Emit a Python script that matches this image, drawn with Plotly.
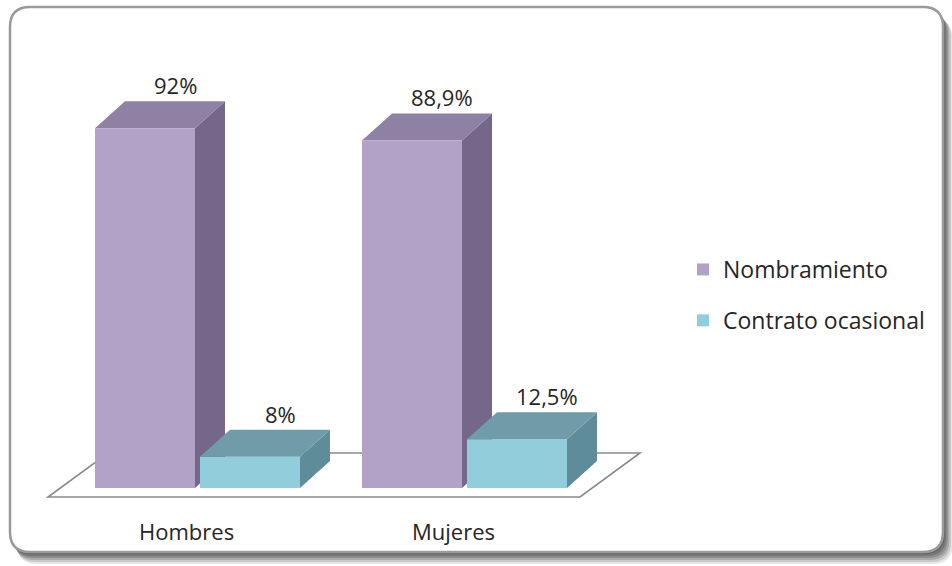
import plotly.graph_objects as go

# ---- data ----
categories = ["Hombres", "Mujeres"]
series_names = ["Nombramiento", "Contrato ocasional"]
nombramiento = [92.0, 88.9]
contrato = [8.0, 12.5]
nombramiento_text = ["92%", "88,9%"]
contrato_text = ["8%", "12,5%"]

# ---- canvas / scale setup ----
W, H = 952, 566
PX_X = 267.0          # pixels per category step
X0_PX = 197.5         # pixel position of the first category centre
PX_Y = 3.91           # pixels per percentage point
Y0_PX = 488.0         # pixel position of the 0 % baseline

x_range = [-X0_PX / PX_X, (W - X0_PX) / PX_X]
y_range = [-(H - Y0_PX) / PX_Y, Y0_PX / PX_Y]

BAR_W = 100 / PX_X
OFFSET = 52.5 / PX_X
DX = 30 / PX_X        # 3-D depth, horizontal
DY = 27 / PX_Y        # 3-D depth, vertical

FONT = "Open Sans"
TXT = "#262626"

colors = {
    "Nombramiento": dict(front="#B3A2C7", side="#75678A", top="#8F81A3"),
    "Contrato ocasional": dict(front="#92CDDC", side="#5E8D99", top="#6F9CA8"),
}


def px_to_paper(x, y):
    return x / W, 1 - y / H


def rounded_rect(x0, y0, x1, y1, r):
    def p(x, y):
        fx, fy = px_to_paper(x, y)
        return f"{fx:.5f},{fy:.5f}"
    return (f"M {p(x0 + r, y0)} L {p(x1 - r, y0)} Q {p(x1, y0)} {p(x1, y0 + r)} "
            f"L {p(x1, y1 - r)} Q {p(x1, y1)} {p(x1 - r, y1)} "
            f"L {p(x0 + r, y1)} Q {p(x0, y1)} {p(x0, y1 - r)} "
            f"L {p(x0, y0 + r)} Q {p(x0, y0)} {p(x0 + r, y0)} Z")


def poly(points):
    return "M " + " L ".join(f"{x:.5f},{y:.5f}" for x, y in points) + " Z"


shapes = []

# chart frame with drop shadow along the bottom/right
for k, a in [(12, 0.12), (10, 0.16), (8, 0.20), (6, 0.24), (4, 0.26), (2, 0.26)]:
    shapes.append(dict(type="path", xref="paper", yref="paper", layer="below",
                       path=rounded_rect(10 + k * 0.6, 7 + k, 943 + k * 0.8, 552 + k, 20),
                       fillcolor=f"rgba(50,50,50,{a})", line=dict(width=0)))
shapes.append(dict(type="path", xref="paper", yref="paper", layer="below",
                   path=rounded_rect(10, 7, 943, 552, 20),
                   fillcolor="white", line=dict(color="#9a9a9a", width=2.5)))

# floor plane
fy_front = -(497 - Y0_PX) / PX_Y
fy_back = (Y0_PX - 453) / PX_Y
floor = [((48 - X0_PX) / PX_X, fy_front), ((580 - X0_PX) / PX_X, fy_front),
         ((640 - X0_PX) / PX_X, fy_back), ((108 - X0_PX) / PX_X, fy_back)]
shapes.append(dict(type="path", xref="x", yref="y", layer="below", path=poly(floor),
                   fillcolor="white", line=dict(color="#8a8a8a", width=1.6)))


def faces(c, v, col, layer):
    l, r = c - BAR_W / 2, c + BAR_W / 2
    side = [(r, 0), (r + DX, DY), (r + DX, v + DY), (r, v)]
    top = [(l, v), (l + DX, v + DY), (r + DX, v + DY), (r, v)]
    return [
        dict(type="path", xref="x", yref="y", layer=layer, path=poly(side),
             fillcolor=col["side"], line=dict(width=0)),
        dict(type="path", xref="x", yref="y", layer=layer, path=poly(top),
             fillcolor=col["top"], line=dict(width=0)),
    ]


fig = go.Figure()
annotations = []

series = [
    ("Nombramiento", nombramiento, nombramiento_text, -OFFSET, "below"),
    ("Contrato ocasional", contrato, contrato_text, OFFSET, "above"),
]

for name, vals, texts, off, layer in series:
    col = colors[name]
    xs = [i + off for i in range(len(categories))]
    fig.add_trace(go.Bar(
        x=xs, y=vals, width=BAR_W, name=name,
        marker=dict(color=col["front"], line=dict(width=0)),
        legendgroup=name, hoverinfo="skip",
    ))
    for c, v, t in zip(xs, vals, texts):
        shapes.extend(faces(c, v, col, layer))
        annotations.append(dict(
            x=c + DX, y=v + DY, xref="x", yref="y", text=t, showarrow=False,
            yanchor="bottom", yshift=-1, font=dict(family=FONT, size=22, color=TXT)))

# category labels under the floor
for i, cat in enumerate(categories):
    annotations.append(dict(
        x=i - 0.04, y=-(531 - Y0_PX) / PX_Y, xref="x", yref="y", text=cat,
        showarrow=False, yanchor="middle",
        font=dict(family=FONT, size=22, color=TXT)))

fig.update_layout(
    width=W, height=H,
    margin=dict(l=0, r=0, t=0, b=0),
    paper_bgcolor="white", plot_bgcolor="rgba(0,0,0,0)",
    barmode="overlay",
    xaxis=dict(range=x_range, visible=False, fixedrange=True),
    yaxis=dict(range=y_range, visible=False, fixedrange=True),
    shapes=shapes, annotations=annotations,
    legend=dict(x=683 / W, y=1 - 248 / H, xanchor="left", yanchor="top",
                font=dict(family=FONT, size=23, color=TXT),
                traceorder="grouped", tracegroupgap=18,
                bgcolor="rgba(0,0,0,0)"),
    showlegend=True,
)

fig.write_html("out.html")
